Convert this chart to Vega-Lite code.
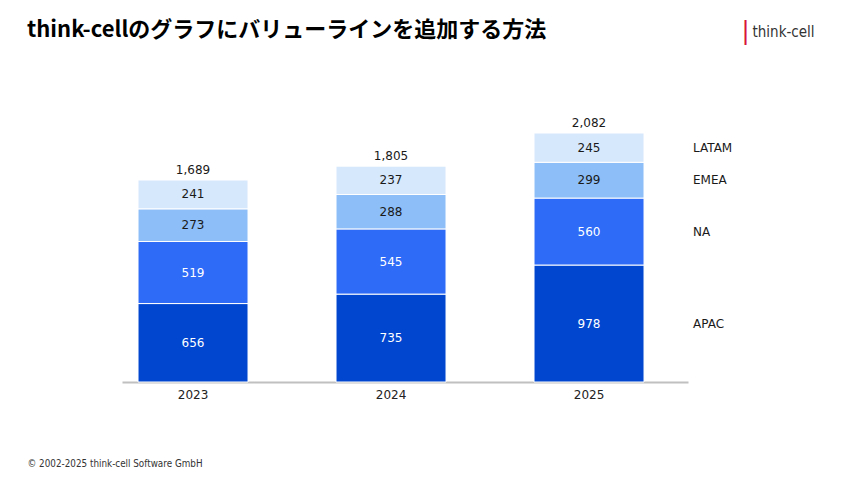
{
  "$schema": "https://vega.github.io/schema/vega-lite/v6.json",
  "width": 566,
  "height": 282,
  "autosize": {"type": "none"},
  "padding": {"left": 122, "top": 100, "right": 165, "bottom": 98},
  "background": "white",
  "config": {"view": {"stroke": null}, "font": "DejaVu Sans"},
  "title": {
    "text": "think-cellのグラフにバリューラインを追加する方法",
    "anchor": "start",
    "frame": "group",
    "dx": -95,
    "dy": 27,
    "font": "Noto Sans CJK JP",
    "fontWeight": "bold",
    "fontSize": 22,
    "color": "#000000"
  },
  "datasets": {
    "segments": [
      {"year": "2023", "region": "APAC", "idx": 1, "value": 656},
      {"year": "2023", "region": "NA", "idx": 2, "value": 519},
      {"year": "2023", "region": "EMEA", "idx": 3, "value": 273},
      {"year": "2023", "region": "LATAM", "idx": 4, "value": 241},
      {"year": "2024", "region": "APAC", "idx": 1, "value": 735},
      {"year": "2024", "region": "NA", "idx": 2, "value": 545},
      {"year": "2024", "region": "EMEA", "idx": 3, "value": 288},
      {"year": "2024", "region": "LATAM", "idx": 4, "value": 237},
      {"year": "2025", "region": "APAC", "idx": 1, "value": 978},
      {"year": "2025", "region": "NA", "idx": 2, "value": 560},
      {"year": "2025", "region": "EMEA", "idx": 3, "value": 299},
      {"year": "2025", "region": "LATAM", "idx": 4, "value": 245}
    ],
    "totals": [
      {"year": "2023", "total": 1689},
      {"year": "2024", "total": 1805},
      {"year": "2025", "total": 2082}
    ]
  },
  "data": {"name": "segments"},
  "transform": [
    {"stack": "value", "groupby": ["year"], "sort": [{"field": "idx", "order": "ascending"}], "as": ["v0", "v1"]},
    {"calculate": "(datum.v0 + datum.v1) / 2", "as": "mid"}
  ],
  "encoding": {
    "x": {
      "field": "year",
      "type": "nominal",
      "scale": {"type": "band", "paddingInner": 0.4444, "paddingOuter": 0.1515, "align": 0.267},
      "axis": {
        "orient": "bottom",
        "labelAngle": 0,
        "domain": true,
        "domainColor": "#c0c0c0",
        "domainWidth": 2,
        "ticks": false,
        "labelFontSize": 12,
        "labelFont": "DejaVu Sans",
        "labelColor": "#222222",
        "labelPadding": 7,
        "title": "© 2002-2025 think-cell Software GmbH",
        "titleFont": "DejaVu Sans Condensed",
        "titleFontSize": 9.8,
        "titleFontWeight": "normal",
        "titleColor": "#333333",
        "titleAnchor": "start",
        "titleAlign": "left",
        "titleBaseline": "middle",
        "titleX": -95,
        "titleY": 81
      }
    }
  },
  "layer": [
    {
      "mark": {"type": "bar", "stroke": "white", "strokeWidth": 1},
      "encoding": {
        "y": {
          "field": "v0",
          "type": "quantitative",
          "scale": {"domain": [0, 2358], "nice": false, "zero": true},
          "axis": {
            "orient": "left",
            "domain": false,
            "ticks": false,
            "labels": false,
            "grid": false,
            "title": "|",
            "titleAngle": 0,
            "titleFont": "DejaVu Sans",
            "titleFontSize": 24,
            "titleFontWeight": "normal",
            "titleColor": "#D7153A",
            "titleAlign": "center",
            "titleBaseline": "middle",
            "titleX": 623,
            "titleY": -69
          }
        },
        "y2": {"field": "v1"},
        "color": {
          "field": "region",
          "type": "nominal",
          "scale": {
            "domain": ["APAC", "NA", "EMEA", "LATAM"],
            "range": ["#0046CF", "#2E6BF7", "#8DBEF7", "#D6E8FC"]
          },
          "legend": null
        }
      }
    },
    {
      "layer": [
        {
          "mark": {"type": "text", "fontSize": 12, "font": "DejaVu Sans", "baseline": "middle"},
          "encoding": {
            "y": {
              "field": "mid",
              "type": "quantitative",
              "scale": {"domain": [0, 2358], "nice": false, "zero": true},
              "axis": {
                "orient": "right",
                "domain": false,
                "ticks": false,
                "labels": false,
                "grid": false,
                "title": "think-cell",
                "titleAngle": 0,
                "titleFont": "DejaVu Sans Condensed",
                "titleFontSize": 15,
                "titleFontWeight": "normal",
                "titleColor": "#333333",
                "titleAlign": "left",
                "titleBaseline": "middle",
                "titleX": 64,
                "titleY": -69
              }
            },
            "text": {"field": "value", "type": "quantitative", "format": ","},
            "color": {
              "condition": {"test": "datum.region === 'APAC' || datum.region === 'NA'", "value": "#FFFFFF"},
              "value": "#1a1a1a"
            }
          }
        },
        {
          "transform": [{"filter": "datum.year === '2025'"}],
          "mark": {"type": "text", "fontSize": 12, "font": "DejaVu Sans", "align": "left", "baseline": "middle", "dx": 104, "color": "#1a1a1a"},
          "encoding": {
            "y": {"field": "mid", "type": "quantitative"},
            "text": {"field": "region", "type": "nominal"}
          }
        },
        {
          "data": {"name": "totals"},
          "transform": [],
          "mark": {"type": "text", "fontSize": 12, "font": "DejaVu Sans", "baseline": "bottom", "dy": -3, "color": "#1a1a1a"},
          "encoding": {
            "x": {"field": "year", "type": "nominal"},
            "y": {"field": "total", "type": "quantitative"},
            "text": {"field": "total", "type": "quantitative", "format": ","}
          }
        }
      ]
    }
  ],
  "resolve": {"scale": {"y": "independent"}, "axis": {"y": "independent"}}
}
